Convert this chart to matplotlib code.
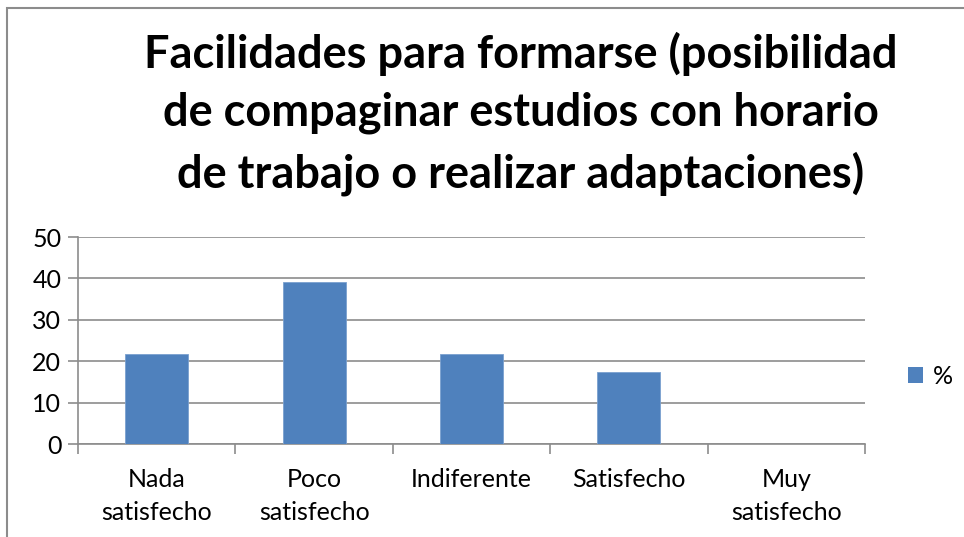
import matplotlib
matplotlib.use("Agg")
import matplotlib.pyplot as plt
from matplotlib.patches import Rectangle, Patch

categories = ["Nada\nsatisfecho", "Poco\nsatisfecho", "Indiferente", "Satisfecho", "Muy\nsatisfecho"]
values = [21.74, 39.13, 21.74, 17.39, 0]
series_name = "%"
title = "Facilidades para formarse (posibilidad\nde compaginar estudios con horario\nde trabajo o realizar adaptaciones)"
yticks = [0, 10, 20, 30, 40, 50]

plt.rcParams['font.family'] = ['Lato', 'DejaVu Sans']
W, H = 964, 537
fig = plt.figure(figsize=(W/100, H/100), dpi=100)
fig.patch.set_facecolor('white')

# outer frame
fig.add_artist(Rectangle((7/W, -0.1), 1.2, 1 - 7.5/H + 0.1, transform=fig.transFigure,
                         fill=False, edgecolor='#8c8c8c', linewidth=1.5))

ax = fig.add_axes([78/W, 1 - 444/H, (865-78)/W, (444-237)/H])
x = list(range(len(categories)))
bar_color = '#4f81bd'
ax.bar(x, values, width=0.4, color=bar_color, edgecolor='#7aa0cf', linewidth=0.6, zorder=3)
ax.set_xlim(-0.5, len(categories) - 0.5)
ax.set_ylim(0, 50)
ax.set_yticks(yticks)
ax.set_yticklabels([str(v) for v in yticks], fontsize=18)
ax.yaxis.grid(True, color='#8c8c8c', linewidth=1.2, zorder=0)
ax.tick_params(axis='y', length=7, color='#8c8c8c', width=1.2, pad=5, labelsize=18)
ax.set_xticks([i - 0.5 for i in range(len(categories) + 1)])
ax.set_xticklabels([])
ax.set_xticks(x, minor=True)
ax.set_xticklabels(categories, minor=True, fontsize=18, linespacing=1.55)
ax.tick_params(axis='x', which='major', length=7, color='#8c8c8c', width=1.2)
ax.tick_params(axis='x', which='minor', length=0, pad=17)
for s in ['top', 'right']:
    ax.spines[s].set_visible(False)
for s in ['left', 'bottom']:
    ax.spines[s].set_color('#8c8c8c')
    ax.spines[s].set_linewidth(1.2)

fig.text(521/W, 1 - 114/H, title, ha='center', va='center', fontsize=32.5,
         fontweight='bold', linespacing=1.47)

leg = fig.legend(handles=[Patch(facecolor=bar_color, label=series_name)],
                 loc='center left', bbox_to_anchor=(900/W, 1 - 376/H), frameon=False,
                 fontsize=18, handlelength=0.6, handleheight=0.6, handletextpad=0.4,
                 borderaxespad=0, borderpad=0.3)

fig.savefig("out.png", dpi=100)
